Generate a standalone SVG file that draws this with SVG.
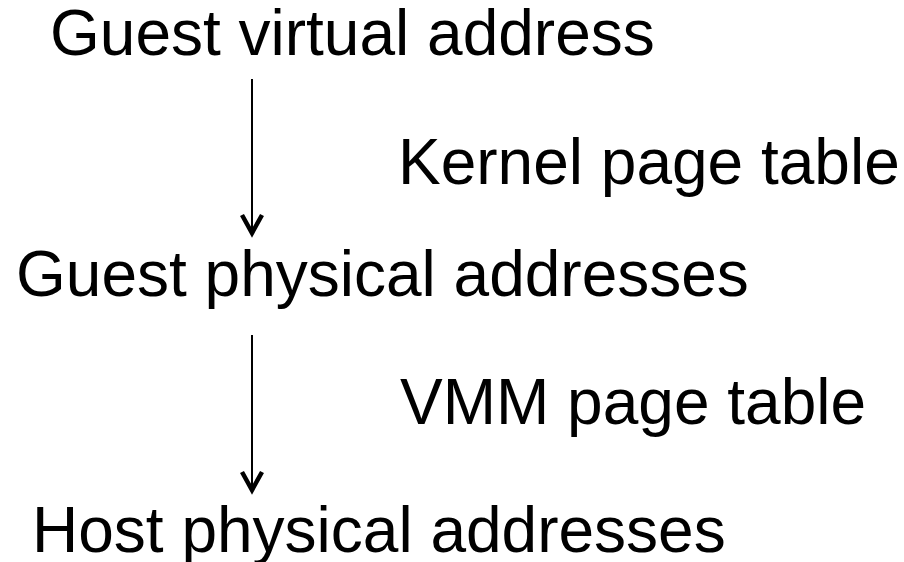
<svg xmlns="http://www.w3.org/2000/svg" width="904" height="562" viewBox="0 0 904 562">
<style>
text{font-family:"Liberation Sans",Arial,sans-serif;font-size:64px;fill:#000}
.ln{stroke:#000;stroke-width:2;fill:none}
.hd{stroke:#000;stroke-width:4.5;fill:none;stroke-linecap:butt;stroke-linejoin:miter}
</style>
<rect width="904" height="562" fill="#fff"/>
<g id="gva"><text x="50" y="55">Guest virtual address</text></g>
<g id="kpt"><text x="398" y="184">Kernel page table</text></g>
<g id="gpa"><text x="16" y="296">Guest physical addresses</text></g>
<g id="vpt"><text x="400" y="424">VMM page table</text></g>
<g id="hpa"><text x="32" y="552">Host physical addresses</text></g>
<g id="connectors">
<line class="ln" x1="252" y1="79" x2="252" y2="234"/>
<polyline class="hd" points="242,215 252,233 262,215"/>
<line class="ln" x1="252" y1="335" x2="252" y2="490"/>
<polyline class="hd" points="242,472 252,490 262,472"/>
</g>
</svg>
